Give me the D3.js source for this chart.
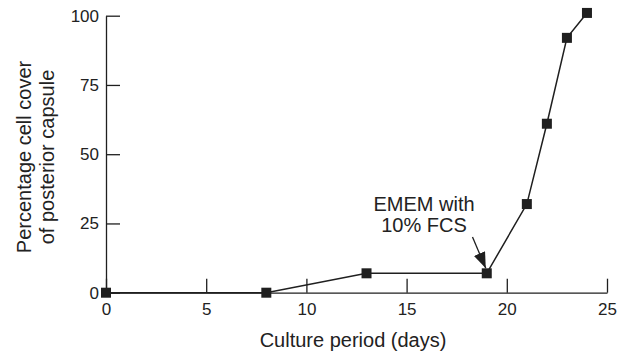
<!DOCTYPE html>
<html lang="en">
<head>
    <meta charset="UTF-8">
    <title>Cell cover of posterior capsule</title>
    <script src="https://d3js.org/d3.v7.min.js"></script>
    <style>
        body { margin: 0; background: #fff; }
        svg { display: block; }
        text { font-family: "Liberation Sans", Arial, sans-serif; fill: #222; }
    </style>
</head>
<body>
    <svg id="chart" width="617" height="351"></svg>
    <script>
        // culture period (days) and percentage cell cover
        const days = [0, 8, 13, 19, 21, 22, 23, 24];
        const cover = [0, 0, 7, 7, 32, 61, 92, 101];
        const xTicks = [0, 5, 10, 15, 20, 25];
        const yTicks = [0, 25, 50, 75, 100];
        const annotation = ["EMEM with", "10% FCS"];
        const annotationDay = 19; // arrow points at this point

        const data = days.map((d, i) => ({ day: d, value: cover[i] }));

        const svg = d3.select("#chart");
        const x = d3.scaleLinear().domain([0, 25]).range([106, 607]);
        const y = d3.scaleLinear().domain([0, 100]).range([292.7, 15.7]);
        const ink = "#1f1f1f";

        // axes, ticks point inward
        svg.append("g")
            .attr("transform", `translate(0,${y(0)})`)
            .call(d3.axisBottom(x).tickValues(xTicks).tickSizeInner(-14).tickSizeOuter(0).tickPadding(10));

        svg.append("g")
            .attr("transform", `translate(${x(0)},0)`)
            .call(d3.axisLeft(y).tickValues(yTicks).tickSizeInner(-14).tickSizeOuter(0).tickPadding(7));

        svg.selectAll(".domain, .tick line").attr("stroke", ink).attr("stroke-width", 1.3);
        svg.selectAll(".tick text")
            .attr("fill", "#222")
            .attr("font-family", null)
            .attr("font-size", 17);

        // axis titles
        svg.append("text")
            .attr("x", 353)
            .attr("y", 347)
            .attr("text-anchor", "middle")
            .attr("font-size", 20)
            .text("Culture period (days)");

        const yTitle = svg.append("text")
            .attr("transform", "translate(31,157) rotate(-90)")
            .attr("text-anchor", "middle")
            .attr("font-size", 20);
        yTitle.append("tspan").attr("x", 0).attr("dy", 0).text("Percentage cell cover");
        yTitle.append("tspan").attr("x", 0).attr("dy", 23).text("of posterior capsule");

        // data line and square markers
        const line = d3.line().x(d => x(d.day)).y(d => y(d.value));
        svg.append("path")
            .datum(data)
            .attr("fill", "none")
            .attr("stroke", ink)
            .attr("stroke-width", 1.5)
            .attr("d", line);

        const s = 10;
        svg.selectAll(".marker")
            .data(data)
            .join("rect")
            .attr("class", "marker")
            .attr("x", d => x(d.day) - s / 2)
            .attr("y", d => y(d.value) - s / 2)
            .attr("width", s)
            .attr("height", s)
            .attr("fill", ink);

        // annotation with arrow
        svg.append("defs").append("marker")
            .attr("id", "arrow")
            .attr("viewBox", "0 0 16 12")
            .attr("refX", 16).attr("refY", 6)
            .attr("markerWidth", 16).attr("markerHeight", 12)
            .attr("markerUnits", "userSpaceOnUse")
            .attr("orient", "auto")
            .append("path")
            .attr("d", "M0,0 L16,6 L0,12 Z")
            .attr("fill", ink);

        const target = data.find(d => d.day === annotationDay);
        svg.append("line")
            .attr("x1", 472.5).attr("y1", 237)
            .attr("x2", x(target.day) - 1).attr("y2", y(target.value) - 5)
            .attr("stroke", ink)
            .attr("stroke-width", 1.3)
            .attr("marker-end", "url(#arrow)");

        const note = svg.append("text")
            .attr("x", 424)
            .attr("y", 211)
            .attr("text-anchor", "middle")
            .attr("font-size", 20);
        note.selectAll("tspan")
            .data(annotation)
            .join("tspan")
            .attr("x", 424)
            .attr("dy", (d, i) => i === 0 ? 0 : 21)
            .text(d => d);
    </script>
</body>
</html>
